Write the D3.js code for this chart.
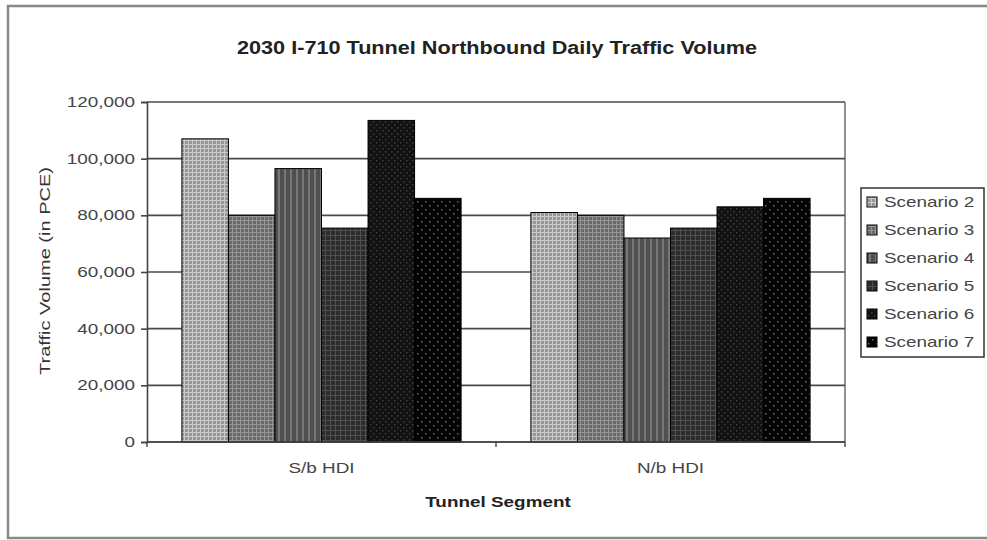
<!DOCTYPE html>
<html>
<head>
<meta charset="utf-8">
<script src="https://cdn.jsdelivr.net/npm/d3@7"></script>
<style>
  body { margin: 0; background: #fff; }
  svg { display: block; font-family: "Liberation Sans", Arial, sans-serif; }
</style>
</head>
<body>
<div id="container"></div>
<script>
const categories = ["S/b HDI", "N/b HDI"];
const seriesNames = ["Scenario 2", "Scenario 3", "Scenario 4", "Scenario 5", "Scenario 6", "Scenario 7"];
const scenario2 = [107000, 81000];
const scenario3 = [80000, 80000];
const scenario4 = [96500, 72000];
const scenario5 = [75500, 75500];
const scenario6 = [113500, 83000];
const scenario7 = [86000, 86000];
const yTicks = [0, 20000, 40000, 60000, 80000, 100000, 120000];

const seriesValues = [scenario2, scenario3, scenario4, scenario5, scenario6, scenario7];

const w = 987; // canvas width
const h = 540; // canvas height
const plotL = 147, plotR = 845, plotT = 102, plotB = 442;
const stretch = 1.35; // the old picture's text is wide

const svg = d3.select("#container").append("svg")
    .attr("width", w)
    .attr("height", h);

// grey pattern fills, like the old spreadsheet ones
const defs = svg.append("defs");
const pats = [
    { bg: "#979797", fg: "#cbcbcb", kind: "grid", s: 4 },
    { bg: "#6a6a6a", fg: "#959595", kind: "grid", s: 4 },
    { bg: "#505050", fg: "#787878", kind: "vert", s: 6 },
    { bg: "#2c2c2c", fg: "#505050", kind: "grid", s: 5 },
    { bg: "#121212", fg: "#3e3e3e", kind: "dots", s: 6 },
    { bg: "#040404", fg: "#6a6a6a", kind: "dots", s: 8 }
];
pats.forEach((p, i) => {
    const pt = defs.append("pattern")
        .attr("id", `pat${i}`)
        .attr("patternUnits", "userSpaceOnUse")
        .attr("width", p.s).attr("height", p.s);
    pt.append("rect").attr("width", p.s).attr("height", p.s).attr("fill", p.bg);
    if (p.kind == "grid") {
        pt.append("rect").attr("width", p.s).attr("height", 1).attr("fill", p.fg);
        pt.append("rect").attr("width", 1).attr("height", p.s).attr("fill", p.fg);
    } else if (p.kind == "vert") {
        pt.append("rect").attr("x", 2).attr("width", 2).attr("height", p.s).attr("fill", p.fg);
    } else {
        pt.append("rect").attr("x", 1).attr("y", 1).attr("width", 1.5).attr("height", 1.5).attr("fill", p.fg);
        pt.append("rect").attr("x", p.s / 2 + 1).attr("y", p.s / 2 + 1).attr("width", 1.5).attr("height", 1.5).attr("fill", p.fg);
    }
});

// outer frame
svg.append("rect")
    .attr("x", 8).attr("y", 6)
    .attr("width", 1000).attr("height", 532)
    .attr("fill", "none")
    .attr("stroke", "#888").attr("stroke-width", 2.5);

const x0 = d3.scaleBand().domain(categories).range([plotL, plotR]);
const bw = x0.bandwidth() / (seriesNames.length + 1.5);
const x1 = d3.scaleBand().domain(seriesNames)
    .range([0.75 * bw, x0.bandwidth() - 0.75 * bw]);
const y = d3.scaleLinear().domain([0, 120000]).range([plotB, plotT]);

// grid lines
svg.append("g")
    .selectAll("line")
    .data(yTicks)
    .enter().append("line")
    .attr("x1", plotL).attr("x2", plotR)
    .attr("y1", (d) => y(d)).attr("y2", (d) => y(d))
    .attr("stroke", "#4a4a4a").attr("stroke-width", 1.6);

// plot area right edge
svg.append("line")
    .attr("x1", plotR).attr("x2", plotR).attr("y1", plotT).attr("y2", plotB)
    .attr("stroke", "#555").attr("stroke-width", 1.3);

// bars
categories.forEach((cat, ci) => {
    svg.append("g")
        .selectAll("rect")
        .data(seriesNames)
        .enter().append("rect")
        .attr("x", (d) => x0(cat) + x1(d))
        .attr("y", (d, i) => y(seriesValues[i][ci]))
        .attr("width", x1.bandwidth())
        .attr("height", (d, i) => y(0) - y(seriesValues[i][ci]))
        .attr("fill", (d, i) => `url(#pat${i})`)
        .attr("stroke", "#000").attr("stroke-width", 1);
});

// axes
const yAxis = svg.append("g").attr("transform", `translate(${plotL},0)`)
    .call(d3.axisLeft(y).tickValues(yTicks).tickSize(6).tickFormat(() => ""));
yAxis.select(".domain").attr("stroke", "#444").attr("stroke-width", 1.6);
yAxis.selectAll(".tick line").attr("stroke", "#444").attr("stroke-width", 1.6);

svg.append("line")
    .attr("x1", plotL).attr("x2", plotR).attr("y1", plotB).attr("y2", plotB)
    .attr("stroke", "#444").attr("stroke-width", 1.6);
svg.append("g")
    .selectAll("line")
    .data([plotL, x0(categories[1]), plotR])
    .enter().append("line")
    .attr("x1", (d) => d).attr("x2", (d) => d)
    .attr("y1", plotB).attr("y2", plotB + 5)
    .attr("stroke", "#444").attr("stroke-width", 1.4);

// tick labels
svg.append("g")
    .selectAll("text")
    .data(yTicks)
    .enter().append("text")
    .attr("transform", (d) => `translate(135,${y(d)}) scale(${stretch},1)`)
    .attr("dy", "0.36em")
    .attr("text-anchor", "end")
    .attr("font-size", 14)
    .attr("fill", "#454545")
    .text((d) => d3.format(",")(d));

svg.append("g")
    .selectAll("text")
    .data(categories)
    .enter().append("text")
    .attr("transform", (d) => `translate(${x0(d) + x0.bandwidth() / 2},473) scale(${stretch},1)`)
    .attr("text-anchor", "middle")
    .attr("font-size", 14)
    .attr("fill", "#454545")
    .text((d) => d);

// titles
svg.append("text")
    .attr("x", 497).attr("y", 53.5)
    .attr("text-anchor", "middle")
    .attr("font-size", 17.5).attr("font-weight", "bold")
    .attr("fill", "#222")
    .attr("textLength", 520).attr("lengthAdjust", "spacingAndGlyphs")
    .text("2030 I-710 Tunnel Northbound Daily Traffic Volume");

svg.append("text")
    .attr("transform", `translate(498,507) scale(${stretch},1)`)
    .attr("text-anchor", "middle")
    .attr("font-size", 14).attr("font-weight", "bold")
    .attr("fill", "#222")
    .text("Tunnel Segment");

svg.append("text")
    .attr("transform", "translate(50,271) rotate(-90)")
    .attr("text-anchor", "middle")
    .attr("font-size", 14.5)
    .attr("fill", "#333")
    .attr("textLength", 208).attr("lengthAdjust", "spacingAndGlyphs")
    .text("Traffic Volume (in PCE)");

// legend
const legend = svg.append("g");
legend.append("rect")
    .attr("x", 861).attr("y", 188)
    .attr("width", 123).attr("height", 169)
    .attr("fill", "#fff")
    .attr("stroke", "#333").attr("stroke-width", 1.5);

const items = legend.selectAll(".item")
    .data(seriesNames)
    .enter().append("g")
    .attr("class", "item")
    .attr("transform", (d, i) => `translate(867,${202 + i * 28})`);
items.append("rect")
    .attr("x", 0).attr("y", -5)
    .attr("width", 10).attr("height", 10)
    .attr("fill", (d, i) => `url(#pat${i})`)
    .attr("stroke", "#000").attr("stroke-width", 1);
items.append("text")
    .attr("transform", `translate(17,0) scale(${stretch},1)`)
    .attr("dy", "0.36em")
    .attr("font-size", 14)
    .attr("fill", "#454545")
    .text((d) => d);
</script>
</body>
</html>
